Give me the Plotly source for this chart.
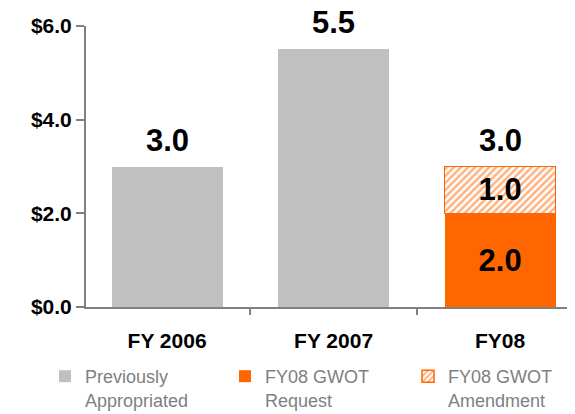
import plotly.graph_objects as go

categories = ["FY 2006", "FY 2007", "FY08"]
prev_approp = [3.0, 5.5, None]
gwot_request = [None, None, 2.0]
gwot_amend = [None, None, 1.0]

FONT = "Liberation Sans, Arial, sans-serif"
GRAY = "#C0C0C0"
ORANGE = "#FF6600"
LBL = dict(size=31, color="black", family=FONT, weight="bold")

totals = [sum(v for v in vals if v is not None)
          for vals in zip(prev_approp, gwot_request, gwot_amend)]

fig = go.Figure()
fig.add_trace(go.Bar(
    x=categories, y=prev_approp, name="Previously<br>Appropriated",
    marker=dict(color=GRAY, line=dict(width=0)),
    width=0.667, legend="legend",
))
fig.add_trace(go.Bar(
    x=categories, y=gwot_request, name="FY08 GWOT<br>Request",
    marker=dict(color=ORANGE, line=dict(width=0)),
    text=[f"{v:.1f}" if v is not None else "" for v in gwot_request],
    textposition="inside", insidetextanchor="middle", textfont=LBL,
    width=0.667, legend="legend2",
))
fig.add_trace(go.Bar(
    x=categories, y=gwot_amend, name="FY08 GWOT<br>Amendment",
    marker=dict(color="white", line=dict(width=1.5, color=ORANGE),
                pattern=dict(shape="/", fgcolor=ORANGE, bgcolor="white", size=5, solidity=0.5)),
    text=[f"{v:.1f}" if v is not None else "" for v in gwot_amend],
    textposition="inside", insidetextanchor="middle", textfont=LBL,
    width=0.667, legend="legend3",
))

for cat, tot in zip(categories, totals):
    fig.add_annotation(x=cat, y=tot, text=f"{tot:.1f}", showarrow=False,
                       yanchor="bottom", yshift=7, font=LBL)

# page body has an 8px margin, so the figure is sized to fit the 575x414 window
W, H = 567, 406


def legend_at(px):
    return dict(orientation="h", xref="container", yref="container",
                x=px / W, xanchor="left", y=1 - 350 / H, yanchor="top",
                font=dict(size=18, color="#808080", family=FONT), valign="top",
                itemwidth=30, bgcolor="rgba(0,0,0,0)")


fig.update_layout(
    barmode="stack",
    width=W, height=H,
    margin=dict(l=78, r=0, t=18, b=107, autoexpand=False),
    paper_bgcolor="white", plot_bgcolor="white",
    font=dict(family=FONT),
    showlegend=True,
    legend=legend_at(37),
    legend2=legend_at(217),
    legend3=legend_at(400),
    xaxis=dict(range=[-0.487, 2.45], showline=True, linecolor="#808080", linewidth=2,
               ticks="outside", tickson="boundaries", ticklen=6, tickcolor="#808080", tickwidth=1.5,
               tickfont=dict(size=21, color="black", family=FONT, weight="bold"),
               ticklabelstandoff=14, showgrid=False, automargin=False),
    yaxis=dict(range=[0, 6], tickvals=[0, 2, 4, 6], tickformat="$.1f",
               showline=True, linecolor="#808080", linewidth=2,
               ticks="outside", ticklen=8, tickcolor="#808080", tickwidth=2,
               tickfont=dict(size=21, color="black", family=FONT, weight="bold"),
               showgrid=False, zeroline=False, automargin=False),
)

fig.write_html("out.html")
